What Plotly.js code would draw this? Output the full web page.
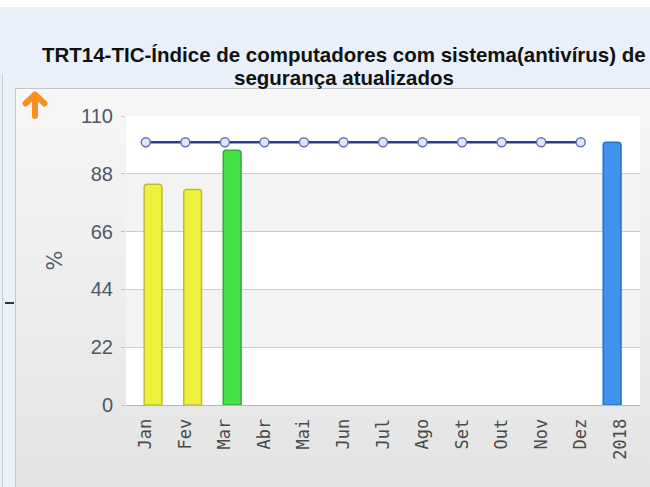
<!DOCTYPE html>
<html>
<head>
<meta charset="utf-8">
<script src="https://cdn.plot.ly/plotly-3.0.1.min.js"></script>
<style>
  html, body { margin: 0; padding: 0; width: 650px; height: 487px; overflow: hidden; }
  body { background: #e9f0f9; position: relative; }
  #topstrip { position: absolute; left: 0; top: 0; width: 650px; height: 7px; background: #ffffff; }
  #leftpanel { position: absolute; left: 2px; top: 74px; width: 12px; height: 420px; border-left: 1px solid #c9ccd0; background: #eaf1f9; }
  #panel { position: absolute; left: 15px; top: 88px; width: 640px; height: 410px; border: 1px solid #c3c7cc;
           background: linear-gradient(to bottom, #f7f7f7 0%, #ebebeb 60%, #e3e3e3 100%); }
  #dash { position: absolute; left: 5px; top: 302px; width: 9px; height: 2px; background: #333; }
  #icon { position: absolute; left: 18px; top: 88px; width: 34px; height: 34px; }
  #chart { position: absolute; left: 0; top: 0; width: 650px; height: 487px; }
</style>
</head>
<body>
<div id="topstrip"></div>
<div id="leftpanel"></div>
<div id="panel"></div>
<div id="dash"></div>
<svg id="icon" viewBox="0 0 34 34" xmlns="http://www.w3.org/2000/svg">
  <g fill="none" stroke="#f7901e" stroke-width="6" stroke-linecap="round" stroke-linejoin="round">
    <line x1="17" y1="9" x2="17" y2="28"/>
    <polyline points="7.5,15.5 17,6.5 26.5,15.5"/>
  </g>
</svg>
<div id="chart"></div>
<script>
// ---- data ----
const months = ['Jan','Fev','Mar','Abr','Mai','Jun','Jul','Ago','Set','Out','Nov','Dez'];
const monthValues = [84, 82, 97, null, null, null, null, null, null, null, null, null];
const targetValues = [100, 100, 100, 100, 100, 100, 100, 100, 100, 100, 100, 100];
const yearLabels = ['2018'];
const yearValues = [100];
const yTicks = [0, 22, 44, 66, 88, 110];
const titleLine1 = 'TRT14-TIC-Índice de computadores com sistema(antivírus) de';
const titleLine2 = 'segurança atualizados';
const yAxisTitle = '%';

// ---- styling ----
function fillFor(v) { return v >= 95 ? '#45e245' : '#eef03c'; }
function lineFor(v) { return v >= 95 ? '#3aa83a' : '#bdbd32'; }
const titleFont = { family: 'Liberation Sans, Arial, sans-serif', size: 20.5, color: '#111111', weight: 'bold' };

const traces = [
  {
    type: 'bar', x: yearLabels, y: yearValues, name: 'Ano',
    width: 0.45, offset: -0.43,
    marker: { color: '#3f93ec', line: { color: '#2c6fc2', width: 1.5 }, cornerradius: 3 },
    hoverinfo: 'x+y'
  },
  {
    type: 'bar', x: months, y: monthValues, name: 'Mês',
    width: 0.45, offset: -0.04,
    marker: {
      color: monthValues.map(v => v == null ? 'rgba(0,0,0,0)' : fillFor(v)),
      line: { color: monthValues.map(v => v == null ? 'rgba(0,0,0,0)' : lineFor(v)), width: 1.5 },
      cornerradius: 3
    },
    hoverinfo: 'x+y'
  },
  {
    type: 'scatter', mode: 'lines+markers', x: months, y: targetValues, name: 'Meta',
    line: { color: '#2b3a92', width: 2.5 },
    marker: { symbol: 'circle', size: 9, color: '#e2e5f4', line: { color: '#6473c0', width: 1.5 } },
    hoverinfo: 'x+y'
  }
];

// alternating background bands between ticks
const shapes = [];
for (let i = 0; i < yTicks.length - 1; i++) {
  if (i % 2 === 1) {
    shapes.push({ type: 'rect', xref: 'paper', yref: 'y', x0: 0, x1: 1, y0: yTicks[i], y1: yTicks[i + 1],
      fillcolor: '#f3f3f3', line: { width: 0 }, layer: 'below' });
  }
}

const layout = {
  width: 650, height: 487,
  margin: { l: 126, r: 10, t: 116, b: 82, pad: 0 },
  paper_bgcolor: 'rgba(0,0,0,0)',
  plot_bgcolor: '#ffffff',
  showlegend: false,
  barmode: 'overlay',
  title: {
    text: titleLine1,
    font: titleFont,
    xref: 'container', x: 0.529, xanchor: 'center',
    yref: 'container', y: 0.887, yanchor: 'middle'
  },
  xaxis: {
    type: 'category',
    categoryorder: 'array',
    categoryarray: months.concat(yearLabels),
    range: [-0.5, 12.5],
    tickangle: -90,
    tickfont: { family: 'DejaVu Sans Mono, monospace', size: 17, color: '#4a4a4a' },
    showgrid: false,
    showline: true, linecolor: '#b5b5b5', linewidth: 1,
    ticks: '', ticklabelstandoff: 6,
    fixedrange: true
  },
  yaxis: {
    range: [0, 110],
    tickvals: yTicks,
    ticktext: yTicks.map(String),
    tickfont: { family: 'Liberation Sans, Arial, sans-serif', size: 20, color: '#4b5867' },
    showgrid: true, gridcolor: '#cccccc', gridwidth: 1,
    zeroline: false,
    ticks: 'outside', ticklen: 4, tickcolor: '#c4c4c4',
    ticklabelstandoff: 4,
    title: { text: yAxisTitle, font: { family: 'DejaVu Sans, sans-serif', size: 21, color: '#555a66' }, standoff: 12 },
    fixedrange: true
  },
  shapes: shapes,
  annotations: [
    { text: '<b>' + titleLine2 + '</b>', xref: 'paper', yref: 'paper', x: 0.424, y: 1.1332,
      xanchor: 'center', yanchor: 'middle', showarrow: false, font: titleFont }
  ]
};

Plotly.newPlot('chart', traces, layout, { displayModeBar: false, staticPlot: true });
</script>
</body>
</html>
